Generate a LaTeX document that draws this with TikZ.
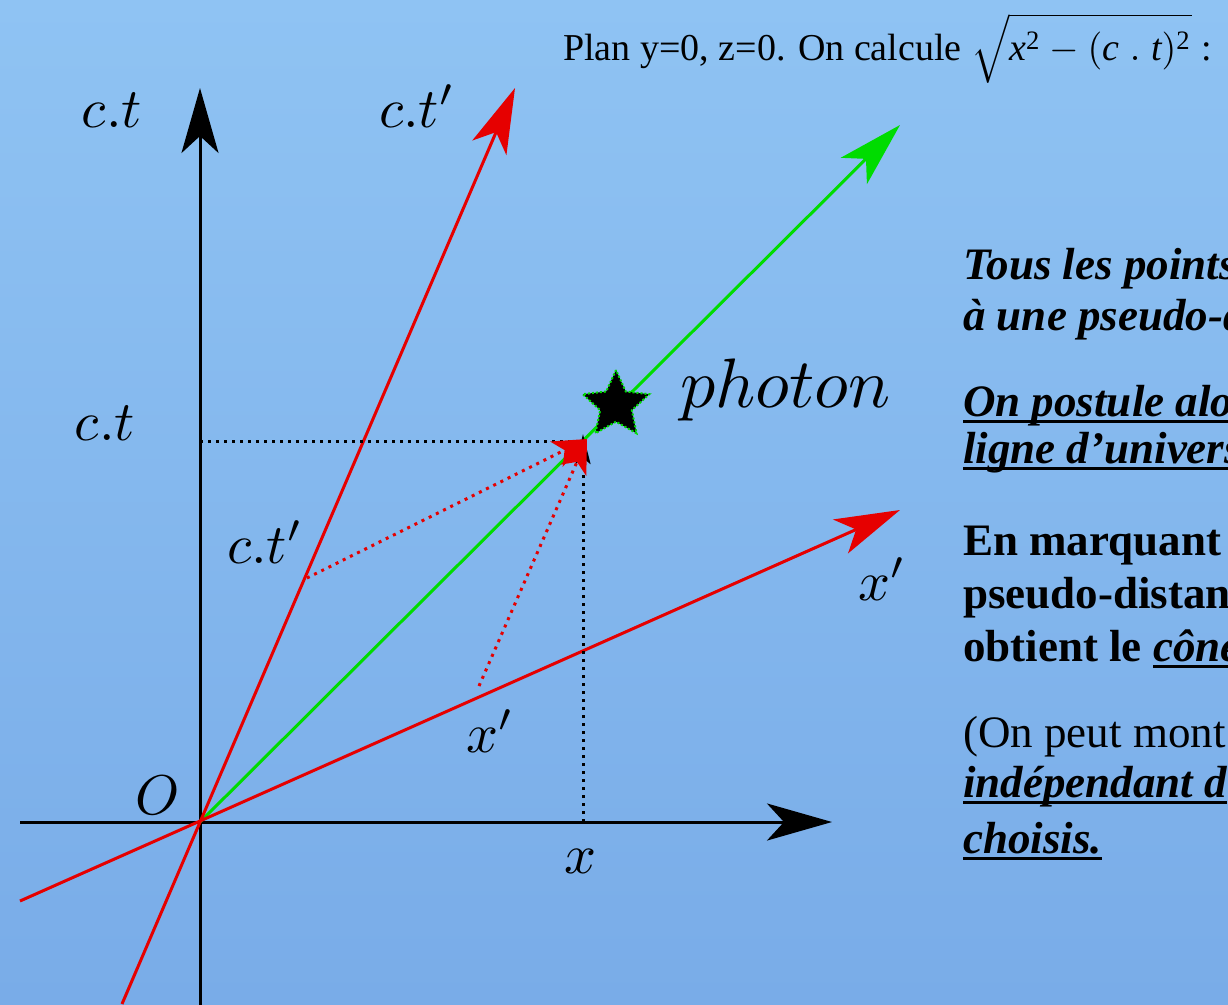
\documentclass[tikz,border=0pt]{standalone}
\usepackage{graphicx}
\usepackage{fontspec}
\setmainfont{Liberation Serif}
\usetikzlibrary{arrows.meta,shapes.geometric}
\definecolor{bgtop}{RGB}{143,195,243}
\definecolor{bgbot}{RGB}{121,172,232}
\definecolor{myred}{RGB}{230,0,0}
\definecolor{mygreen}{RGB}{0,220,0}
\newcommand\myul[1]{\setbox0\hbox{#1}\rlap{\rule[-6.5pt]{\wd0}{3pt}}\box0}
\newcommand\bigmath[2]{\scalebox{#1}{\fontsize{10}{12}\selectfont$#2$}}
\newcommand\suptwo{^{\mbox{\fontsize{7}{8}\selectfont 2}}}
\begin{document}
\begin{tikzpicture}[x=1pt,y=-1pt,
  axis/.style={line width=3pt},
  bigtip/.style={-{Stealth[length=65pt,width=37pt,inset=17pt]}},
  lab/.style={inner sep=0pt,anchor=base},
  rtext/.style={inner sep=0pt,anchor=base west,font=\fontsize{45}{48}\selectfont\bfseries\itshape},
  rtextb/.style={inner sep=0pt,anchor=base west,font=\fontsize{45}{48}\selectfont\bfseries},
  rtextn/.style={inner sep=0pt,anchor=base west,font=\fontsize{45}{48}\selectfont},
  dots/.style={line width=3pt,dash pattern=on 3pt off 5pt}]
\useasboundingbox (0,0) rectangle (1228,1004);
\shade[top color=bgtop,bottom color=bgbot] (0,0) rectangle (1228,1004);
\clip (0,0) rectangle (1228,1004);
% coordinates
\coordinate (O) at (200,822);
\coordinate (xs) at (20,822);
\coordinate (xe) at (832,822);
\coordinate (ts) at (200,1010);
\coordinate (te) at (200,88);
\coordinate (cps) at (122,1004);
\coordinate (cpe) at (515,88);
\coordinate (xps) at (20,901);
\coordinate (xpe) at (900,510);
\coordinate (ge) at (900,125);
\coordinate (P) at (587,439);
\coordinate (Pt) at (583,434);
\coordinate (A) at (200,441);
\coordinate (Ae) at (572,441);
\coordinate (B) at (583,822);
\coordinate (C) at (307,578);
\coordinate (D) at (479,686);
% axes
\draw[axis,bigtip] (xs) -- (xe);
\draw[axis,bigtip] (ts) -- (te);
% light line
\draw[axis,mygreen,bigtip] (O) -- (ge);
% primed axes
\draw[axis,myred,bigtip] (cps) -- (cpe);
\draw[axis,myred,bigtip] (xps) -- (xpe);
% dotted projections
\draw[dots] (A) -- (Ae);
\draw[dots,-{Stealth[length=30pt,width=15pt,inset=6pt]}] (B) -- (Pt);
\draw[dots,myred,-{Stealth[length=34pt,width=28pt,inset=9pt]}] (D) -- (P);
\draw[dots,myred,-{Stealth[length=34pt,width=28pt,inset=9pt]}] (C) -- (P);
% star
\node[star,star points=5,star point ratio=2.1,fill=black,draw=mygreen,dotted,line width=2pt,minimum size=70pt,inner sep=0pt] (star) at (616,405) {};
% labels
\node[lab] (l1) at (112,127) {\bigmath{5.6}{c.t}};
\node[lab] (l2) at (417,127) {\bigmath{5.6}{c.t'}};
\node[lab] (l3) at (105,440) {\bigmath{5.6}{c.t}};
\node[lab] (l4) at (265,563) {\bigmath{5.6}{c.t'}};
\node[lab] (l5) at (882,600) {\bigmath{5.6}{x'}};
\node[lab] (l6) at (490,752) {\bigmath{5.6}{x'}};
\node[lab] (l7) at (580,873) {\bigmath{5.6}{x}};
\node[lab] (l8) at (158,814) {\bigmath{5.6}{O}};
\node[inner sep=0pt,anchor=base west] (ph) at (680,407) {\bigmath{7}{photon}};
% title
\node[inner sep=0pt,anchor=base west,font=\fontsize{38}{40}\selectfont] (title) at (563,60) {Plan y=0, z=0. On calcule \scalebox{3.8}{\fontsize{10}{12}\selectfont$\sqrt{\vphantom{\big(}\textit{x}\suptwo-(\textit{c}\;.\;\textit{t})\suptwo}$} :};
% right text
\node[rtext] (r1) at (963,279) {Tous les points};
\node[rtext] (r2) at (963,330) {à une pseudo-d};
\node[rtext] (r3) at (963,416) {\myul{On postule alo}};
\node[rtext] (r4) at (963,463) {\myul{ligne d’univers}};
\node[rtextb] (r5) at (963,555) {En marquant};
\node[rtextb] (r6) at (963,608) {pseudo-distan};
\node[rtextb] (r7) at (963,661) {obtient le \myul{\itshape cône}};
\node[rtextn] (r8) at (963,747) {(On peut mont};
\node[rtext] (r9) at (963,797) {\myul{indépendant d}};
\node[rtext] (r10) at (963,853) {\myul{choisis.}};
\end{tikzpicture}
\end{document}
